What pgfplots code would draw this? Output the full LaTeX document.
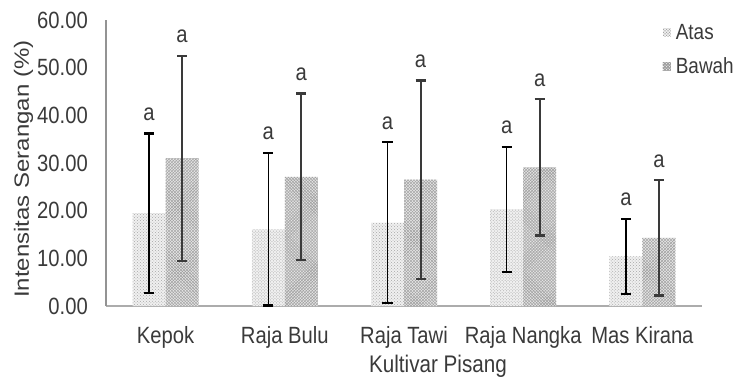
\documentclass[border=0pt]{standalone}
\usepackage{fontspec}
\setmainfont{Liberation Sans}[FakeStretch=0.86]
\newfontfamily\titlefont{Liberation Sans}
\usepackage{graphicx}
\usepackage{pgfplots}
\usepackage{pgfplotstable}
\pgfplotsset{compat=1.18}
\usetikzlibrary{patterns}

\definecolor{txt}{HTML}{3A3A3A}
\definecolor{errdark}{HTML}{3A3A3A}

% mean intensity and standard deviation per cultivar, upper (Atas) and lower (Bawah) leaves
\pgfplotstableread{
x atas atasErr bawah bawahErr
0 19.5 16.7 31.0 21.5
1 16.1 16.0 27.1 17.5
2 17.5 16.9 26.5 20.8
3 20.3 13.1 29.1 14.3
4 10.4 7.9 14.3 12.1
}\datatable

\begin{document}
\begin{tikzpicture}
\useasboundingbox (0,0) rectangle (739bp,385bp);
\begin{axis}[
  at={(106bp,79bp)}, anchor=south west,
  scale only axis, width=596bp, height=286bp,
  xmin=-0.5, xmax=4.5, ymin=0, ymax=60,
  axis x line=bottom, axis y line=left,
  x axis line style={-, draw=gray!65, line width=2.5bp},
  y axis line style={-, draw=gray!85, line width=1.2bp},
  major tick length=0pt,
  xtick={0,1,2,3,4},
  xticklabels={Kepok, Raja Bulu, Raja Tawi, Raja Nangka, Mas Kirana},
  ytick={0,10,...,60},
  /pgf/number format/assume math mode=true,
  yticklabel style={/pgf/number format/fixed, /pgf/number format/fixed zerofill,
    /pgf/number format/precision=2, anchor=east, xshift=-18bp, inner sep=0pt},
  tick label style={font=\fontsize{23.5bp}{26bp}\selectfont, text=txt},
  xticklabel style={anchor=base, yshift=-37bp, inner sep=0pt},
  xlabel={Kultivar Pisang},
  xlabel style={at={(axis description cs:0.557,0)}, anchor=base, yshift=-66bp,
    font=\fontsize{24bp}{26bp}\selectfont, text=txt},
  ylabel={\scalebox{1}[0.86]{\titlefont Intensitas Serangan (\%)}},
  ylabel style={at={(axis description cs:0,0.479)}, anchor=center, yshift=82.5bp,
    font=\fontsize{24bp}{26bp}\selectfont, text=txt},
  ybar, bar width=33bp,
  legend style={at={(rel axis cs:0.934,0.99)}, anchor=north west, draw=none, fill=none,
    font=\fontsize{22bp}{24bp}\selectfont, text=txt, row sep=15bp, inner sep=0pt,
    nodes={inner sep=1bp}, cells={anchor=west},
    /tikz/every odd column/.append style={column sep=4bp}},
  clip=false,
]
% upper leaves
\addplot[fill=gray!12, draw=none,
  postaction={pattern=crosshatch dots, pattern color=gray!70},
  bar shift=-16.5bp,
  legend image code/.code={\fill[fill=gray!12] (0bp,-4bp) rectangle (8bp,4bp);
    \fill[pattern=crosshatch dots, pattern color=gray!70] (0bp,-4bp) rectangle (8bp,4bp);},
  error bars/.cd, y dir=both, y explicit,
  error bar style={black, line width=1.5bp},
  error mark options={rotate=90, mark size=5bp, line width=2.2bp, black}]
  table[x=x, y=atas, y error=atasErr] {\datatable};
\addlegendentry{Atas}
% lower leaves
\addplot[fill=gray!20, draw=none,
  postaction={pattern=crosshatch, pattern color=gray!78},
  bar shift=16.5bp,
  legend image code/.code={\fill[fill=gray!20] (0bp,-4bp) rectangle (8bp,4bp);
    \fill[pattern=crosshatch, pattern color=gray!78] (0bp,-4bp) rectangle (8bp,4bp);},
  error bars/.cd, y dir=both, y explicit,
  error bar style={errdark, line width=2bp},
  error mark options={rotate=90, mark size=5bp, line width=2.2bp, errdark}]
  table[x=x, y=bawah, y error=bawahErr] {\datatable};
\addlegendentry{Bawah}
% significance letters above the error bars
\addplot[draw=none, fill=none, bar shift=-16.5bp, forget plot,
  nodes near coords={a},
  every node near coord/.append style={anchor=base, yshift=13bp, inner sep=0pt,
    font=\fontsize{23.5bp}{26bp}\selectfont, text=txt}]
  table[x=x, y expr=\thisrow{atas}+\thisrow{atasErr}] {\datatable};
\addplot[draw=none, fill=none, bar shift=16.5bp, forget plot,
  nodes near coords={a},
  every node near coord/.append style={anchor=base, yshift=13bp, inner sep=0pt,
    font=\fontsize{23.5bp}{26bp}\selectfont, text=txt}]
  table[x=x, y expr=\thisrow{bawah}+\thisrow{bawahErr}] {\datatable};
\end{axis}
\end{tikzpicture}
\end{document}
